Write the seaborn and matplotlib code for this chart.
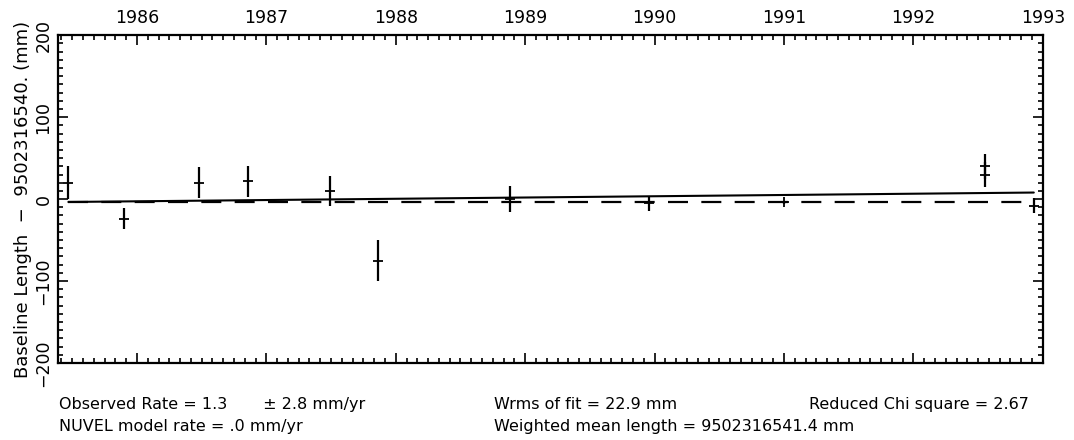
import numpy as np
import pandas as pd
import matplotlib
matplotlib.use("Agg")
import matplotlib.pyplot as plt
from matplotlib.ticker import MultipleLocator
import seaborn as sns

obs_year = [1985.47, 1985.90, 1986.48, 1986.86, 1987.49, 1987.86,
            1988.88, 1989.96, 1991.00, 1992.55, 1992.55, 1992.93]
obs_mm = [20, -24, 20, 22, 10, -75, 0, -5, -4, 40, 30, -8]
obs_err = [20, 13, 19, 19, 18, 25, 16, 9, 2, 15, 15, 9]

# weighted fit line and NUVEL model line
fit_year = [1985.47, 1992.93]
fit_mm = [-3.5, 8.0]
model_year = [1985.47, 1992.93]
model_mm = [-3.0, -3.0]

year_ticks = [1986, 1987, 1988, 1989, 1990, 1991, 1992, 1993]
mm_ticks = [-200, -100, 0, 100, 200]

footer_left = ["Observed Rate = 1.3       \u00b1 2.8 mm/yr",
               "NUVEL model rate = .0 mm/yr"]
footer_mid = ["Wrms of fit = 22.9 mm",
              "Weighted mean length = 9502316541.4 mm"]
footer_right = "Reduced Chi square = 2.67"

sns.set_style("ticks")
plt.rcParams["font.family"] = ["DejaVu Sans"]
plt.rcParams.update({"text.color": "black", "axes.labelcolor": "black",
                     "xtick.color": "black", "ytick.color": "black"})

obs = pd.DataFrame({"year": obs_year, "mm": obs_mm, "err": obs_err})
fit = pd.DataFrame({"year": fit_year, "mm": fit_mm})
model = pd.DataFrame({"year": model_year, "mm": model_mm})

fig = plt.figure(figsize=(10.74, 4.40), dpi=100)
ax = fig.add_axes([0.054, 0.175, 0.917, 0.745])

sns.lineplot(data=model, x="year", y="mm", ax=ax, color="black",
             linewidth=1.6, dashes=False, linestyle=(0, (9, 6)))
sns.lineplot(data=fit, x="year", y="mm", ax=ax, color="black", linewidth=1.5)
ax.errorbar(obs["year"], obs["mm"], yerr=obs["err"], fmt="none",
            ecolor="black", elinewidth=1.6, capsize=0)
sns.scatterplot(data=obs, x="year", y="mm", ax=ax, marker="+", color="black",
                s=45, linewidth=1.3)

ax.set_xlim(1985.39, 1993.0)
ax.set_ylim(-200, 200)
ax.set_xticks(year_ticks)
ax.set_xticklabels([str(y) for y in year_ticks], fontsize=12.5)
ax.xaxis.set_minor_locator(MultipleLocator(1 / 12))
ax.set_yticks(mm_ticks)
ax.set_yticklabels([str(v).replace("-", "\u2212") for v in mm_ticks],
                   rotation=90, va="center", fontsize=12.5)
ax.yaxis.set_minor_locator(MultipleLocator(10))

ax.tick_params(which="both", direction="in", top=True, bottom=True,
               left=True, right=True, labeltop=True, labelbottom=False,
               color="black", width=1.2)
ax.tick_params(which="major", length=7)
ax.tick_params(axis="x", which="major", pad=6)
ax.tick_params(axis="y", which="major", pad=4)
ax.tick_params(which="minor", length=3.5)
for side in ax.spines.values():
    side.set_linewidth(1.6)
    side.set_color("black")

ax.set_xlabel("")
ax.set_ylabel("Baseline Length  \u2212  9502316540. (mm)", fontsize=13,
              labelpad=2)

fs = 11.5
fig.text(0.055, 0.080, footer_left[0], fontsize=fs, va="center")
fig.text(0.055, 0.030, footer_left[1], fontsize=fs, va="center")
fig.text(0.460, 0.080, footer_mid[0], fontsize=fs, va="center")
fig.text(0.460, 0.030, footer_mid[1], fontsize=fs, va="center")
fig.text(0.958, 0.080, footer_right, fontsize=fs, va="center", ha="right")

fig.savefig("out.png", dpi=100)
